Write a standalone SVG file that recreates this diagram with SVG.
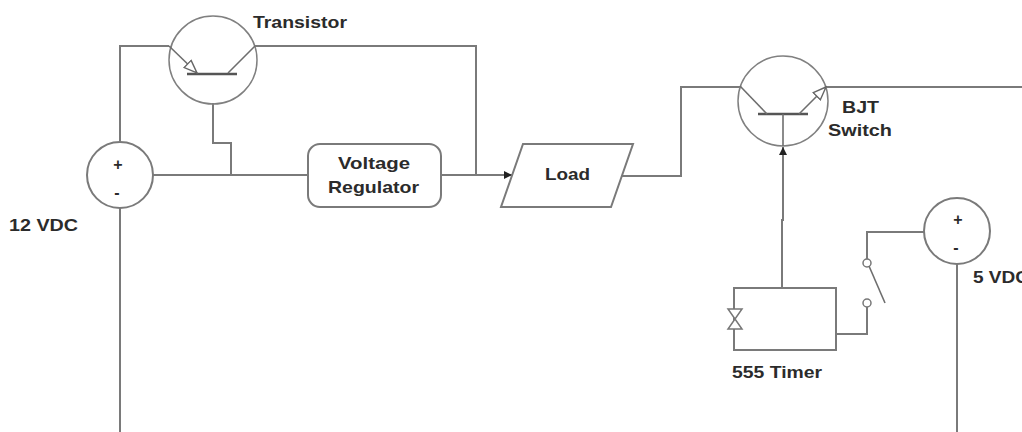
<svg xmlns="http://www.w3.org/2000/svg" width="1022" height="432" viewBox="0 0 1022 432">
<defs>
<marker id="arrowBlack" markerUnits="userSpaceOnUse" markerWidth="9" markerHeight="8" refX="8" refY="4" orient="auto"><path d="M0 0L8 4L0 8Z" fill="#222"/></marker>
<marker id="arrowOpen" markerUnits="userSpaceOnUse" markerWidth="16" markerHeight="13" refX="14" refY="6" orient="auto"><path d="M1 1L14 6L1 11Z" fill="#fff" stroke="#666" stroke-width="1.4"/></marker>
</defs>
<style>
.w{fill:none;stroke:#7a7a7a;stroke-width:2}
.s{fill:#fff;stroke:#7a7a7a;stroke-width:2}
.c{fill:none;stroke:#808080;stroke-width:1.5}
.b{fill:none;stroke:#555;stroke-width:2.5}
.l{fill:none;stroke:#6e6e6e;stroke-width:1.6}
.t{font-family:"Liberation Sans",Arial,sans-serif;font-weight:700;font-size:17px;fill:#2b2b2b}
.p{font-family:"Liberation Sans",Arial,sans-serif;font-weight:700;font-size:16px;fill:#2b2b2b;text-anchor:middle}
</style>
<rect width="1022" height="432" fill="#fff"/>
<g id="connectors">
<path class="w" d="M120 141V46H169"/>
<path class="w" d="M120 208V432"/>
<path class="w" d="M255 46H476V175"/>
<path class="w" d="M213 103V143H231V175"/>
<path class="w" d="M153 175H308"/>
<path class="w" d="M441 175H512" marker-end="url(#arrowBlack)"/>
<path class="w" d="M621 176H681V87H740"/>
<path class="w" d="M826 87H1022"/>
<path class="w" d="M782 288V220H783V147" marker-end="url(#arrowBlack)"/>
<path class="w" d="M836 334H867V307"/>
<path class="w" d="M867 259V232H924"/>
<path class="w" d="M957 264V432"/>
</g>
<g id="transistor">
<circle class="c" cx="213" cy="60" r="44"/>
<path class="b" d="M187 74H237"/>
<path class="l" d="M169 46L197 73" marker-end="url(#arrowOpen)"/>
<path class="l" d="M255 46L228 73"/>
<text class="t" x="253" y="28" textLength="94" lengthAdjust="spacingAndGlyphs">Transistor</text>
</g>
<g id="bjt-switch">
<circle class="c" cx="783" cy="101" r="45"/>
<path class="b" d="M758 114H808"/>
<path class="l" d="M740 86L767 114"/>
<path class="l" d="M799 114L826 87" marker-end="url(#arrowOpen)"/>
<path class="l" d="M783 114V146"/>
<text class="t" x="842" y="113" textLength="37" lengthAdjust="spacingAndGlyphs">BJT</text>
<text class="t" x="828" y="136" textLength="64" lengthAdjust="spacingAndGlyphs">Switch</text>
</g>
<g id="source-12v">
<circle class="s" cx="120" cy="175" r="33"/>
<text class="p" x="118" y="170">+</text>
<text class="p" x="117" y="198">-</text>
<text class="t" x="9" y="231" textLength="69" lengthAdjust="spacingAndGlyphs">12 VDC</text>
</g>
<g id="voltage-regulator">
<rect class="s" x="308" y="144" width="133" height="63" rx="12"/>
<text class="t" x="338" y="169" textLength="72" lengthAdjust="spacingAndGlyphs">Voltage</text>
<text class="t" x="328" y="193" textLength="91" lengthAdjust="spacingAndGlyphs">Regulator</text>
</g>
<g id="load">
<path class="s" d="M523 144H633L611 207H501Z"/>
<text class="t" x="545" y="180" textLength="45" lengthAdjust="spacingAndGlyphs">Load</text>
</g>
<g id="timer">
<rect class="w" x="734" y="288" width="102" height="62"/>
<path fill="#fff" stroke="#777" stroke-width="1.5" d="M728 309H742L728 329H742Z"/>
<text class="t" x="732" y="378" textLength="90" lengthAdjust="spacingAndGlyphs">555 Timer</text>
</g>
<g id="switch">
<circle cx="867" cy="263" r="4" fill="#fff" stroke="#777" stroke-width="1.5"/>
<circle cx="867" cy="303" r="4" fill="#fff" stroke="#777" stroke-width="1.5"/>
<path class="l" d="M869 266L885 303"/>
</g>
<g id="source-5v">
<circle class="s" cx="957" cy="231" r="33"/>
<text class="p" x="958" y="225">+</text>
<text class="p" x="956" y="253">-</text>
<text class="t" x="973" y="283" textLength="56" lengthAdjust="spacingAndGlyphs">5 VDC</text>
</g>
</svg>
